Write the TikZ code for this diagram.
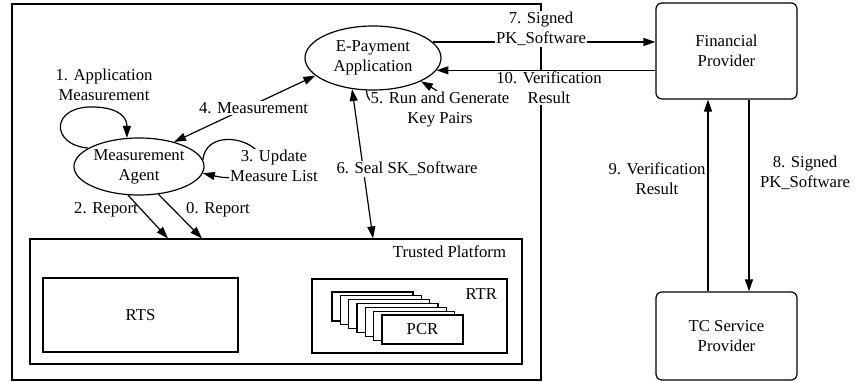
\documentclass[tikz,border=0pt]{standalone}
\usepackage{fontspec}
\setmainfont{Liberation Serif}
\usetikzlibrary{arrows.meta,shapes.geometric}
\begin{document}
\begin{tikzpicture}[x=1pt,y=-1pt,line width=1.2pt,
  every node/.style={font=\fontsize{16.7}{20}\selectfont,inner sep=0pt},
  box/.style={draw,rectangle,inner sep=0pt},
  provider/.style={draw,rectangle,rounded corners=6pt,align=center,minimum width=141pt},
  proc/.style={draw,ellipse,align=center,inner sep=0pt},
  lab/.style={align=center},
  mask/.style={align=center,fill=white,inner sep=1pt},
  tip/.tip={Triangle[length=12pt,width=8pt]},
  arr/.style={-tip},
  darr/.style={tip-tip}]
\useasboundingbox (0,0) rectangle (855,381);

% host platform and its trusted hardware
\node[box,minimum width=529pt,minimum height=376pt] (host) at (276.5,192) {};
\node[box,minimum width=492pt,minimum height=125pt] (tp) at (276,301.5) {};
\node[anchor=east] (tplabel) at ([xshift=-16pt,yshift=-13pt]tp.north east) {Trusted Platform};
\node[box,minimum width=195pt,minimum height=74pt] (rts) at (140.5,315) {RTS};
\node[box,minimum width=195pt,minimum height=74pt] (rtr) at (409.5,316) {};
\node[anchor=east] (rtrlabel) at ([xshift=-10pt,yshift=-16pt]rtr.north east) {RTR};
\foreach \i in {0,...,5}
  \node[box,fill=white,minimum width=81pt,minimum height=29pt] (pcr\i) at ({372.5+8.33*\i},{306.5+3.83*\i}) {};
\node[box,fill=white,minimum width=81pt,minimum height=29pt] (pcr6) at (422.5,329.5) {PCR};

% software components
\node[proc,minimum width=130pt,minimum height=57pt] (agent) at (139,166.5) {Measurement\\Agent};
\node[proc,minimum width=136pt,minimum height=64pt] (ep) at (373,58) {E-Payment\\Application};

% external parties
\node[provider,minimum height=96pt] (fp) at (726.5,51) {Financial\\Provider};
\node[provider,minimum height=88pt] (tc) at (726.5,336) {TC Service\\Provider};

% flows
\draw[arr] (agent.160) .. controls (50,145) and (50,105) .. (95,107)
  .. controls (120,108) and (127,118) .. (agent.113);
\draw[arr] (agent.249) -- ([xshift=-108pt]tp.north);
\draw[arr] (agent.-55) -- ([xshift=-74pt]tp.north);
\draw[arr] (agent.6) .. controls (206,132) and (245,136) .. (258,152)
  .. controls (262,172) and (240,182) .. (agent.-6);
\draw[darr] (agent.35) -- (ep.197);
\draw[arr] (ep.259) .. controls (365,125) and (480,115) .. (ep.-26);
\draw[darr] (ep.236) -- ([xshift=97pt]tp.north);
\draw[arr] (ep.15) -- (ep.15 -| fp.west);
\draw[arr] (ep.-11 -| fp.west) -- (ep.-11);
\draw[arr] ([xshift=22.5pt]fp.south) -- ([xshift=22.5pt]tc.north);
\draw[arr] ([xshift=-18.5pt]tc.north) -- ([xshift=-18.5pt]fp.south);

% flow labels
\node[lab] (l1) at (104,85) {1. Application\\Measurement};
\node[lab] (l2) at (106,210) {2. Report};
\node[lab] (l0) at (218,210) {0. Report};
\node[mask] (l3) at (274,166) {3. Update\\Measure List};
\node[mask] (l4) at (253.5,108) {4. Measurement};
\node[mask] (l10) at (549,88) {10. Verification\\Result};
\node[mask] (l5) at (440,110) {5. Run and Generate\\Key Pairs};
\node[mask] (l6) at (407,169) {6. Seal SK\_Software};
\node[mask] (l7) at (541,29) {7. Signed\\PK\_Software};
\node[lab] (l8) at (805,173) {8. Signed\\PK\_Software};
\node[lab] (l9) at (657,179) {9. Verification\\Result};
\end{tikzpicture}
\end{document}
